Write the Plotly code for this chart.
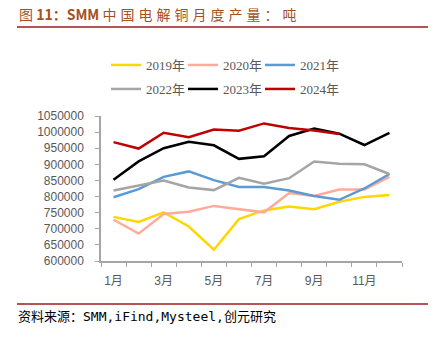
import plotly.graph_objects as go

months = [1, 2, 3, 4, 5, 6, 7, 8, 9, 10, 11, 12]
tick_vals = [1, 3, 5, 7, 9, 11]
tick_text = ["1月", "3月", "5月", "7月", "9月", "11月"]

y2019 = [737000, 721000, 751000, 707000, 635000, 730000, 757000, 769000, 761000, 784000, 799000, 805000]
y2020 = [728000, 685000, 746000, 753000, 771000, 761000, 751000, 811000, 802000, 822000, 822000, 861000]
y2021 = [798000, 823000, 861000, 878000, 851000, 830000, 830000, 819000, 802000, 790000, 825000, 870000]
y2022 = [819000, 835000, 850000, 828000, 820000, 858000, 840000, 857000, 909000, 902000, 900000, 870000]
y2023 = [852000, 909000, 950000, 970000, 959000, 917000, 925000, 988000, 1011000, 995000, 960000, 998000]
y2024 = [969000, 949000, 998000, 984000, 1008000, 1004000, 1027000, 1013000, 1005000, 994000]

series = [
    ("2019年", y2019, "#FFD700"),
    ("2020年", y2020, "#FFAB9A"),
    ("2021年", y2021, "#5B9BD5"),
    ("2022年", y2022, "#A5A5A5"),
    ("2023年", y2023, "#000000"),
    ("2024年", y2024, "#C00000"),
]

W, H = 432, 337
L, R, T, B = 101, 30, 116, 76
pw = W - L - R
ph = H - T - B

def px(x):
    return (x - L) / pw

def py(y):
    return (H - B - y) / ph

fig = go.Figure()
legend_pos = [(106, 65), (183, 65), (260, 65), (106, 89), (183, 89), (260, 89)]
layout_legends = {}
for i, (name, vals, col) in enumerate(series):
    lname = "legend" if i == 0 else f"legend{i+1}"
    fig.add_trace(go.Scatter(
        x=months[:len(vals)], y=vals, mode="lines", name=name,
        line=dict(color=col, width=2.5), legend=lname, showlegend=True,
    ))
    lx, ly = legend_pos[i]
    layout_legends[lname] = dict(
        x=px(lx), y=py(ly), xanchor="left", yanchor="middle",
        orientation="h", bgcolor="rgba(0,0,0,0)", borderwidth=0,
        font=dict(family="Liberation Serif, Times New Roman, Noto Sans CJK SC, serif",
                  size=13, color="#595959"),
        itemclick=False, itemdoubleclick=False, visible=True,
    )

fig.update_layout(
    width=W, height=H,
    margin=dict(l=L, r=R, t=T, b=B),
    paper_bgcolor="white", plot_bgcolor="white",
    showlegend=True,
    **layout_legends,
    title=dict(
        text='图\u00a0<b>11：SMM</b>\u00a0<span style="letter-spacing:4px">中国电解铜月度产量：吨</span>',
        x=19 / W, xanchor="left", y=1 - 15 / H, yanchor="middle",
        font=dict(family="Noto Sans CJK SC, sans-serif", size=14, color="#A5501E"),
    ),
)

fig.update_xaxes(
    range=[0.5, 12.5], tickvals=tick_vals, ticktext=tick_text,
    showgrid=False, zeroline=False, showline=True, linecolor="#A6A6A6", linewidth=1.5,
    ticks="", tickfont=dict(family="Liberation Sans, Arial, Noto Sans CJK SC, sans-serif", size=12, color="#595959"),
    minor=dict(tick0=0.5, dtick=1, ticks="outside", ticklen=4, tickcolor="#A6A6A6", tickwidth=1, showgrid=False),
    ticklabelstandoff=8,
)
fig.update_yaxes(
    range=[600000, 1050000], dtick=50000, tickformat="d",
    showgrid=False, zeroline=False, showline=True, linecolor="#A6A6A6", linewidth=1.5,
    ticks="outside", ticklen=4, tickcolor="#A6A6A6", tickwidth=1,
    ticklabelstandoff=9,
    tickfont=dict(family="Liberation Sans, Arial, sans-serif", size=12, color="#595959"),
)

fig.add_shape(type="line", xref="paper", yref="paper",
              x0=px(17), x1=px(428), y0=py(27), y1=py(27),
              line=dict(color="#9B1B1B", width=1.5))
fig.add_shape(type="line", xref="paper", yref="paper",
              x0=px(17), x1=px(428), y0=py(304), y1=py(304),
              line=dict(color="#9B1B1B", width=1.5))
fig.add_annotation(
    text="资料来源：SMM,iFind,Mysteel,创元研究",
    xref="paper", yref="paper", x=px(16), y=py(316),
    xanchor="left", yanchor="middle", showarrow=False,
    font=dict(family="DejaVu Sans Mono, Noto Sans CJK SC, monospace", size=13, color="#000000"),
)

fig.write_html("out.html")
